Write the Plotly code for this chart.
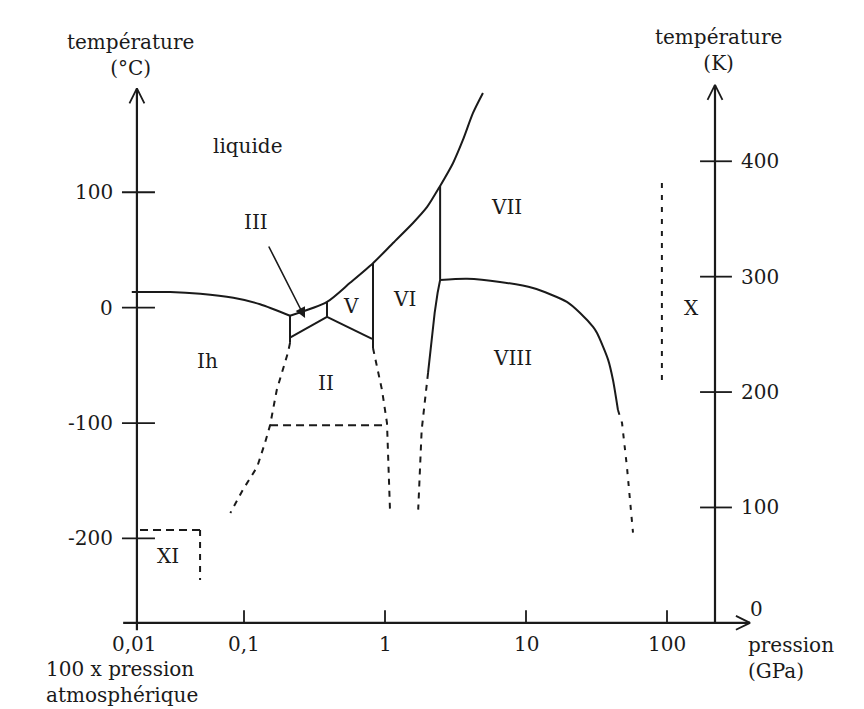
import numpy as np
import plotly.graph_objects as go

# ---------------- data (pressure in GPa, temperature in °C) ----------------
ih_liq_p = [0.016, 0.030, 0.049, 0.084, 0.130, 0.212]
ih_liq_t = [13.5, 13.5, 12.0, 8.5, 3.0, -7.0]

melt_p = [0.212, 0.388, 0.565, 0.822, 1.14, 1.58, 1.99, 2.46, 3.04, 3.57, 4.21, 4.95]
melt_t = [-7.0, 5.0, 21.5, 38.5, 56.0, 73.4, 87.3, 105.5, 125.4, 145.3, 168.7, 186.0]

iii_left_p = [0.212, 0.212]
iii_left_t = [-7.0, -30.5]
iii_low_p = [0.212, 0.388]
iii_low_t = [-26.0, -8.0]
iii_v_p = [0.388, 0.388]
iii_v_t = [5.0, -8.0]
v_low_p = [0.388, 0.81]
v_low_t = [-8.0, -27.0]
v_vi_p = [0.822, 0.822]
v_vi_t = [38.5, -35.0]
vi_vii_p = [2.46, 2.46]
vi_vii_t = [105.5, 24.0]
vi_viii_p = [2.46, 2.36, 2.25, 2.14, 2.02]
vi_viii_t = [24.0, 12.7, -4.6, -30.0, -56.5]
vi_viii_dash_p = [2.02, 1.87, 1.82, 1.72]
vi_viii_dash_t = [-56.5, -91.5, -106.0, -175.0]
vii_viii_p = [2.46, 3.82, 6.54, 11.2, 19.5, 24.2, 29.9, 31.9, 38.2, 41.4, 44.9]
vii_viii_t = [24.0, 25.0, 22.3, 17.0, 5.0, -4.6, -16.7, -22.0, -45.0, -62.7, -88.7]
viii_dash_p = [44.9, 48.0, 52.0, 54.7, 57.4]
viii_dash_t = [-88.7, -100.0, -138.0, -166.6, -195.0]
ih_ii_p = [0.212, 0.205, 0.171, 0.153, 0.141, 0.124, 0.098, 0.080]
ih_ii_t = [-30.5, -39.0, -71.0, -102.0, -117.0, -138.0, -158.0, -178.0]
ii_low_p = [0.153, 1.03]
ii_low_t = [-102.0, -102.0]
ii_vi_p = [0.822, 0.952, 1.033, 1.085]
ii_vi_t = [-35.0, -71.3, -100.0, -175.3]
x_phase_p = [92.0, 92.0]
x_phase_t = [108.0, -63.0]
xi_top_p = [0.0183, 0.0504]
xi_top_t = [-192.6, -192.6]
xi_side_p = [0.0488, 0.0488]
xi_side_t = [-192.6, -236.0]

phase_names = ["liquide", "III", "Ih", "II", "V", "VI", "VII", "VIII", "X", "XI"]
phase_p = [0.107, 0.122, 0.0555, 0.382, 0.574, 1.386, 7.33, 7.96, 150.0, 0.0289]
phase_t = [140.0, 74.0, -46.5, -65.3, 1.5, 7.5, 87.3, -43.6, -0.3, -215.2]

arrow_iii_tail = (0.148, 54.3)
arrow_iii_head = (0.271, -8.9)

# axes / ticks
p_ticks = [0.1, 1, 10, 100]
p_tick_text = ["0,1", "1", "10", "100"]
p_origin = 0.0174          # where the drawn °C axis sits (labelled 0,01)
p_origin_text = "0,01"
p_end = 388.0
c_ticks = [100, 0, -100, -200]
c_tick_text = ["100", "0", "-100", "-200"]
k_ticks = [100, 200, 300, 400]
k_tick_text = ["100", "200", "300", "400"]
k_axis_p = 219.0
t_zero_k = -273.15
c_top = 190.0
k_top = 193.0

# ---------------- figure ----------------
INK = "#1a1a1a"
FONT = "DejaVu Serif"
fig = go.Figure()


def line(p, t, dash="solid", width=2.0, shape="linear"):
    fig.add_trace(go.Scatter(
        x=p, y=t, mode="lines",
        line=dict(color=INK, width=width, dash=dash, shape=shape, smoothing=0.7),
        hoverinfo="skip", showlegend=False))


L0 = np.log10(p_origin)
LK = np.log10(k_axis_p)
LE = np.log10(p_end)

# axis lines
line([p_origin, p_origin], [t_zero_k - 6.5, c_top], width=2.2)
line([0.0139, p_end], [t_zero_k, t_zero_k], width=2.2)
line([k_axis_p, k_axis_p], [t_zero_k, k_top], width=2.2)
# arrow heads (open chevrons)
line([10 ** (L0 - 0.053), p_origin, 10 ** (L0 + 0.053)], [c_top - 13, c_top, c_top - 13], width=1.8)
line([10 ** (LK - 0.053), k_axis_p, 10 ** (LK + 0.053)], [k_top - 13, k_top, k_top - 13], width=1.8)
line([10 ** (LE - 0.1), p_end, 10 ** (LE - 0.1)], [t_zero_k + 6, t_zero_k, t_zero_k - 6], width=1.8)
# ticks
for c in c_ticks:
    line([10 ** (L0 - 0.106), 10 ** (L0 + 0.128)], [c, c], width=1.8)
for k in k_ticks:
    line([10 ** (LK - 0.106), 10 ** (LK + 0.12)], [k + t_zero_k, k + t_zero_k], width=1.8)
for p in p_ticks:
    line([p, p], [t_zero_k, t_zero_k + 11], width=1.8)

# phase boundaries (solid)
line(ih_liq_p, ih_liq_t, shape="spline")
line(melt_p, melt_t, shape="spline")
line(iii_left_p, iii_left_t)
line(iii_low_p, iii_low_t)
line(iii_v_p, iii_v_t)
line(v_low_p, v_low_t)
line(v_vi_p, v_vi_t)
line(vi_vii_p, vi_vii_t)
line(vi_viii_p, vi_viii_t)
line(vii_viii_p, vii_viii_t, shape="spline")
# metastable / uncertain boundaries (dashed)
line(ih_ii_p, ih_ii_t, dash="6px,6px")
line(ii_low_p, ii_low_t, dash="8px,5px")
line(ii_vi_p, ii_vi_t, dash="6px,6px")
line(vi_viii_dash_p, vi_viii_dash_t, dash="6px,6px")
line(viii_dash_p, viii_dash_t, dash="5px,7px")
line(x_phase_p, x_phase_t, dash="5px,7px")
line(xi_top_p, xi_top_t, dash="8px,5px")
line(xi_side_p, xi_side_t, dash="6px,6px")

ann = []
tf = dict(family=FONT, size=20, color=INK)

for name, p, t in zip(phase_names, phase_p, phase_t):
    ann.append(dict(x=np.log10(p), y=t, text=name, showarrow=False, font=tf,
                    xanchor="center", yanchor="middle"))

ann.append(dict(x=np.log10(arrow_iii_head[0]), y=arrow_iii_head[1],
                ax=np.log10(arrow_iii_tail[0]), ay=arrow_iii_tail[1],
                axref="x", ayref="y", text="", showarrow=True,
                arrowhead=2, arrowsize=1.3, arrowwidth=1.6, arrowcolor=INK))

for c, txt in zip(c_ticks, c_tick_text):
    ann.append(dict(x=L0, y=c, text=txt, showarrow=False, font=tf,
                    xanchor="right", yanchor="middle", xshift=-22))
for k, txt in zip(k_ticks, k_tick_text):
    ann.append(dict(x=LK, y=k + t_zero_k, text=txt, showarrow=False, font=tf,
                    xanchor="left", yanchor="middle", xshift=24))
for p, txt in zip(p_ticks, p_tick_text):
    ann.append(dict(x=np.log10(p), y=t_zero_k, text=txt, showarrow=False, font=tf,
                    xanchor="center", yanchor="top", yshift=-7))
ann.append(dict(x=L0, y=t_zero_k, text=p_origin_text, showarrow=False, font=tf,
                xanchor="center", yanchor="top", yshift=-7, xshift=-2))
ann.append(dict(x=LE, y=t_zero_k, text="0", showarrow=False, font=tf,
                xanchor="left", yanchor="middle", yshift=14, xshift=-2))

ann.append(dict(x=L0, y=c_top, text="température<br>(°C)", showarrow=False, font=tf,
                xanchor="center", yanchor="bottom", yshift=6, xshift=-6, align="center"))
ann.append(dict(x=LK, y=k_top, text="température<br>(K)", showarrow=False, font=tf,
                xanchor="center", yanchor="bottom", yshift=8, xshift=3, align="center"))
ann.append(dict(x=LE, y=t_zero_k, text="pression<br>(GPa)", showarrow=False, font=tf,
                xanchor="left", yanchor="top", yshift=-8, xshift=-4, align="left"))
ann.append(dict(x=L0, y=t_zero_k, text="100 x pression<br>atmosphérique", showarrow=False,
                font=tf, xanchor="left", yanchor="top", yshift=-32, xshift=-93, align="left"))

fig.update_layout(
    width=864, height=709,
    margin=dict(l=0, r=0, t=0, b=0),
    paper_bgcolor="white", plot_bgcolor="white",
    xaxis=dict(type="log", range=[-2.7305, 3.3972], visible=False, fixedrange=True),
    yaxis=dict(range=[-347.8, 266.6], visible=False, fixedrange=True),
    annotations=ann,
    showlegend=False,
)

fig.write_html("out.html", config={"displayModeBar": False})
